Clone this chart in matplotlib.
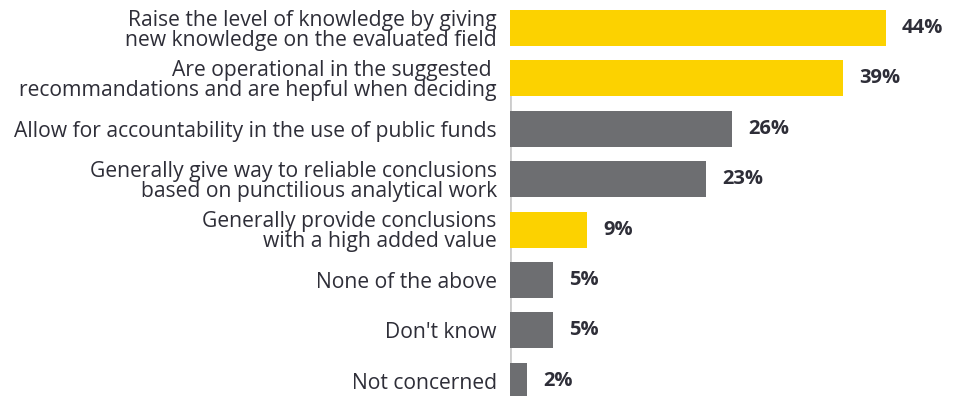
import matplotlib.pyplot as plt

# survey answers, top to bottom
labels = [
    "Raise the level of knowledge by giving\nnew knowledge on the evaluated field",
    "Are operational in the suggested \nrecommandations and are hepful when deciding",
    "Allow for accountability in the use of public funds",
    "Generally give way to reliable conclusions\nbased on punctilious analytical work",
    "Generally provide conclusions\nwith a high added value",
    "None of the above",
    "Don't know",
    "Not concerned",
]
values = [44, 39, 26, 23, 9, 5, 5, 2]
highlight = [True, True, False, False, True, False, False, False]

yellow = "#FCD200"
grey = "#6D6E71"
text_col = "#2E2E38"

plt.rcParams['font.family'] = ['Open Sans', 'DejaVu Sans']

fig = plt.figure(figsize=(9.6, 3.96), dpi=100)
ax = fig.add_axes([510 / 960, 0, 444 / 960, 1])

pos = list(range(len(values)))
colors = [yellow if h else grey for h in highlight]
ax.barh(pos, values, height=0.714, color=colors, zorder=2)

ax.set_xlim(0, 52)
ax.set_ylim(7.30, -0.556)

# thin axis line along the bar bases
ax.axvline(0, ymin=0, ymax=1 - (0.79 + 0.556) / 7.856, color="#cccccc", lw=2, zorder=1)

for p, v in zip(pos, values):
    ax.text(v + 1.9, p, f"{v}%", va="center", ha="left", fontsize=14.5,
            fontweight="bold", color=text_col)

ax.set_yticks(pos)
ax.set_yticklabels(labels, fontsize=15.2, color=text_col, linespacing=0.95)
ax.tick_params(axis="y", length=0, pad=9.5)
ax.set_xticks([])
for s in ax.spines.values():
    s.set_visible(False)

fig.savefig("out.png", dpi=100)
